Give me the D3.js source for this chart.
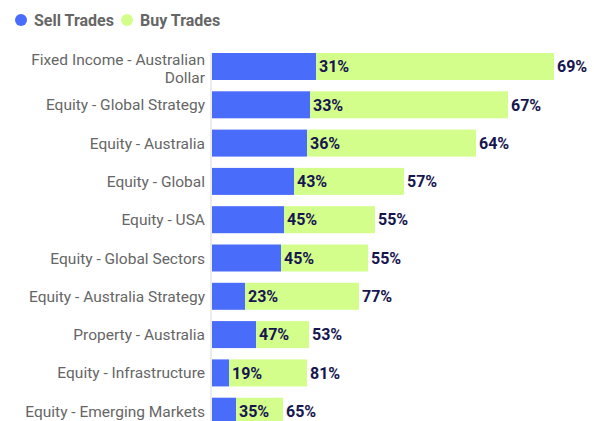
<!DOCTYPE html>
<html><head><meta charset="utf-8">
<script src="https://cdn.jsdelivr.net/npm/d3@7"></script>
<style>html,body{margin:0;padding:0;background:#fff;overflow:hidden}</style>
</head><body><svg id="c" width="594" height="421"></svg>
<script>
const categories = ["Fixed Income - Australian Dollar","Equity - Global Strategy","Equity - Australia","Equity - Global","Equity - USA","Equity - Global Sectors","Equity - Australia Strategy","Property - Australia","Equity - Infrastructure","Equity - Emerging Markets"];
const sellTrades = [104, 98, 95, 82, 72, 69, 33, 44, 17, 24];
const buyTrades = [238, 198, 169, 110, 91, 87, 114, 53, 78, 47];
const sellPct = ["31%","33%","36%","43%","45%","45%","23%","47%","19%","35%"];
const buyPct = ["69%","67%","64%","57%","55%","55%","77%","53%","81%","65%"];
const seriesNames = ["Sell Trades","Buy Trades"];
const colors = ["#4a6cfa","#d4fe8c"];

const svg = d3.select("#c");
const font = "Roboto, sans-serif";
const x = d3.scaleLinear().domain([0, 342]).range([212, 554]);
const y = d3.scaleBand().domain(categories).range([53, 424.7]).paddingInner(0.295).paddingOuter(0);

// axis line
svg.append("line").attr("x1",211).attr("x2",211).attr("y1",53).attr("y2",421)
  .attr("stroke","#e6e6e6").attr("stroke-width",1.5);

const rows = categories.map((c,i)=>({c, s:sellTrades[i], b:buyTrades[i], sp:sellPct[i], bp:buyPct[i]}));
const g = svg.append("g");
g.selectAll(".sell").data(rows).join("rect")
  .attr("x", x(0)).attr("y", d=>y(d.c)).attr("width", d=>x(d.s)-x(0)).attr("height", y.bandwidth()).attr("fill", colors[0]);
g.selectAll(".buy").data(rows).join("rect")
  .attr("x", d=>x(d.s)).attr("y", d=>y(d.c)).attr("width", d=>x(d.s+d.b)-x(d.s)).attr("height", y.bandwidth()).attr("fill", colors[1]);

g.selectAll(".sl").data(rows).join("text")
  .attr("x", d=>x(d.s)+3).attr("y", d=>y(d.c)+y.bandwidth()/2).attr("dy","0.36em")
  .attr("font-family", font).attr("font-weight","bold").attr("font-size",16).attr("fill","#16164f")
  .text(d=>d.sp);
g.selectAll(".bl").data(rows).join("text")
  .attr("x", d=>x(d.s+d.b)+3).attr("y", d=>y(d.c)+y.bandwidth()/2).attr("dy","0.36em")
  .attr("font-family", font).attr("font-weight","bold").attr("font-size",16).attr("fill","#16164f")
  .text(d=>d.bp);

// category labels
rows.forEach(d=>{
  const cy = y(d.c)+y.bandwidth()/2;
  const t = svg.append("text").attr("text-anchor","end").attr("font-family",font)
    .attr("font-size",15.5).attr("fill","#666");
  if (d.c === "Fixed Income - Australian Dollar") {
    t.append("tspan").attr("x",205).attr("y",cy-7.5).attr("dy","0.36em").text("Fixed Income - Australian");
    t.append("tspan").attr("x",205).attr("y",cy+10.5).attr("dy","0.36em").text("Dollar");
  } else {
    t.attr("x",205).attr("y",cy).attr("dy","0.36em").text(d.c);
  }
});

// legend
const lg = svg.append("g");
const lx = [21, 127];
seriesNames.forEach((n,i)=>{
  lg.append("circle").attr("cx",lx[i]).attr("cy",20).attr("r",6).attr("fill",colors[i]);
  lg.append("text").attr("x",lx[i]+13).attr("y",20).attr("dy","0.36em")
    .attr("font-family",font).attr("font-weight","bold").attr("font-size",16).attr("fill","#666").text(n);
});
</script></body></html>
